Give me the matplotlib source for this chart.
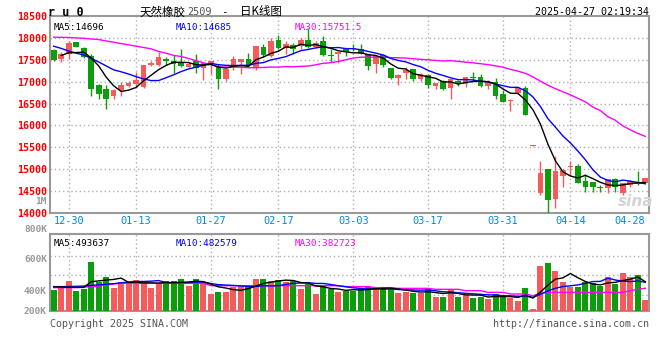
"""Sina-style daily K chart for ru0 (天然橡胶2509)."""
import numpy as np
import pandas as pd
import matplotlib
matplotlib.use("Agg")
import matplotlib.pyplot as plt

plt.rcParams['font.family'] = ['DejaVu Sans Mono', 'Noto Sans CJK SC']

# ---- data (index 0 = 12-26, last = 04-28) ----
opens = [17727, 17523, 17636, 17901, 17773, 17583, 16932, 16841, 16674, 16803,
         16909, 16954, 16878, 17371, 17386, 17523, 17462, 17432, 17333, 17462,
         17310, 17409, 17333, 17053, 17371, 17447, 17523, 17310, 17788, 17583,
         17954, 17773, 17841, 17810, 17954, 17803, 17939, 17613, 17636, 17735,
         17773, 17750, 17621, 17394, 17598, 17318, 17083, 17204, 17295, 17053,
         17159, 16894, 17015, 16863, 17015, 16938, 17115, 17115, 16900, 17000,
         16707, 16554, 16736, 16864, 15540, 14450, 15006, 14313, 14846, 15045,
         15074, 14738, 14709, 14602, 14564, 14777, 14450, 14640, 14716, 14679]
highs = [17735, 17674, 17939, 17910, 17788, 17621, 16940, 16916, 16841, 16992,
         17010, 17219, 17380, 17480, 17674, 17560, 17598, 17750, 17447, 17636,
         17447, 17470, 17409, 17295, 17583, 17523, 17659, 17810, 17863, 18000,
         18068, 17924, 17886, 18000, 18227, 17939, 18037, 17735, 17674, 17773,
         17863, 17863, 17621, 17583, 17598, 17318, 17182, 17333, 17295, 17204,
         17182, 16977, 17030, 17068, 17040, 17115, 17215, 17169, 17038, 17077,
         16807, 16595, 16880, 16900, 15550, 15189, 15006, 15303, 15000, 15189,
         15120, 14884, 14709, 14650, 14777, 14790, 14679, 14760, 14967, 14810]
lows = [17480, 17447, 17523, 17790, 17538, 16666, 16613, 16371, 16613, 16666,
        16880, 16878, 16860, 17356, 17356, 17371, 17204, 17333, 17295, 17204,
        17030, 17167, 16826, 17015, 17272, 17182, 17333, 17257, 17560, 17560,
        17750, 17621, 17621, 17750, 17773, 17773, 17583, 17447, 17432, 17583,
        17700, 17621, 17257, 17204, 17333, 17053, 16916, 17053, 17015, 17015,
        16856, 16826, 16803, 16613, 16900, 16869, 17023, 16884, 16831, 16615,
        16538, 16340, 16736, 16240, 15530, 14411, 14000, 14122, 14600, 14869,
        14679, 14487, 14480, 14480, 14460, 14470, 14400, 14600, 14640, 14670]
closes = [17485, 17636, 17886, 17803, 17560, 16826, 16727, 16613, 16803, 16916,
          16977, 17030, 17371, 17432, 17560, 17462, 17394, 17356, 17409, 17310,
          17432, 17462, 17053, 17295, 17507, 17523, 17371, 17810, 17598, 17924,
          17773, 17863, 17750, 17962, 17788, 17879, 17613, 17576, 17674, 17674,
          17750, 17636, 17348, 17583, 17371, 17091, 17144, 17257, 17053, 17182,
          16916, 16977, 16841, 17055, 16938, 17100, 17077, 16900, 16984, 16669,
          16538, 16592, 16864, 16240, 15550, 14907, 14297, 14967, 14983, 15074,
          14679, 14602, 14587, 14564, 14777, 14602, 14679, 14738, 14663, 14792]
# volume in thousands
volumes = [353, 421, 505, 337, 370, 830, 493, 572, 392, 483,
           466, 522, 505, 392, 466, 505, 505, 539, 421, 539,
           466, 286, 320, 320, 399, 421, 421, 539, 539, 505,
           522, 493, 505, 370, 454, 286, 421, 365, 325, 342,
           342, 392, 404, 404, 365, 365, 308, 325, 298, 298,
           392, 241, 241, 365, 241, 269, 224, 241, 202, 286,
           258, 224, 173, 392, 39, 762, 813, 678, 493, 409,
           409, 493, 466, 421, 577, 454, 645, 577, 606, 185]
# moving averages that need data before the window
ma30 = [18015, 18012, 18010, 18000, 17990, 17975, 17962, 17930, 17901, 17870,
        17841, 17810, 17780, 17750, 17690, 17650, 17600, 17575, 17530, 17480,
        17430, 17390, 17340, 17335, 17333, 17330, 17318, 17318, 17325, 17333,
        17333, 17345, 17340, 17350, 17356, 17386, 17420, 17432, 17462, 17500,
        17540, 17560, 17560, 17560, 17560, 17550, 17545, 17540, 17523, 17510,
        17500, 17485, 17472, 17480, 17465, 17446, 17430, 17410, 17390, 17360,
        17330, 17280, 17240, 17190, 17110, 17010, 16920, 16840, 16770, 16700,
        16620, 16540, 16420, 16340, 16200, 16120, 15990, 15900, 15820, 15751]
ma5_head = [np.nan, 17600, 17660, 17665]
ma10_head = [17810, 17760, 17700, 17650, 17610, 17530, 17450, 17360, 17270]
vol_ma30 = [393, 393, 393, 393, 400, 410, 420, 440, 454, 466,
            466, 466, 466, 466, 466, 466, 466, 466, 466, 466,
            466, 426, 426, 426, 426, 426, 426, 426, 426, 426,
            426, 426, 426, 426, 426, 426, 426, 426, 426, 410,
            410, 410, 410, 393, 393, 393, 381, 381, 381, 381,
            381, 365, 365, 365, 365, 342, 342, 342, 314, 314,
            314, 286, 286, 286, 258, 297, 310, 314, 314, 314,
            314, 314, 314, 314, 314, 314, 314, 342, 365, 383]
vol_ma5_head = [410, 405, 400, 398]
vol_ma10_head = [410, 410, 412, 415, 420, 430, 440, 450, 460]

date_idx = [2, 11, 21, 30, 40, 50, 60, 69, 79]
date_labels = ["12-30", "01-13", "01-27", "02-17", "03-03",
               "03-17", "03-31", "04-14", "04-28"]
price_ticks = [14000, 14500, 15000, 15500, 16000, 16500, 17000, 17500, 18000, 18500]

RED = "#f65b5b"
GREEN = "#0a9e0a"
GRID = "#b0b0b0"
FRAME = "#999999"
DATE_BLUE = "#0088dd"

df = pd.DataFrame({"open": opens, "high": highs, "low": lows,
                   "close": closes, "vol": volumes})
x = np.arange(len(df))
up = df["close"] >= df["open"]
colors = np.where(up, RED, GREEN)

ma5 = df["close"].rolling(5).mean().values
ma5[:4] = ma5_head
ma10 = df["close"].rolling(10).mean().values
ma10[:9] = ma10_head
vma5 = df["vol"].rolling(5).mean().values
vma5[:4] = vol_ma5_head
vma10 = df["vol"].rolling(10).mean().values
vma10[:9] = vol_ma10_head

W, H = 660, 360
fig = plt.figure(figsize=(W / 100, H / 100), dpi=100)


def fx(px):
    return px / W


def fy(py):
    return 1 - py / H


def style_frame(ax):
    for s in ax.spines.values():
        s.set_color(FRAME)
        s.set_linewidth(1.5)
    ax.tick_params(length=0)


ax = fig.add_axes([fx(50), fy(213), fx(649) - fx(50), fy(16) - fy(213)])
axv = fig.add_axes([fx(50), fy(311), fx(649) - fx(50), fy(234) - fy(311)])

# ---- price panel ----
ax.vlines(x, df["low"], df["high"], colors=colors, linewidth=1, zorder=3)
body_lo = np.minimum(df["open"], df["close"])
body_h = np.maximum(np.abs(df["close"] - df["open"]), 12)
ax.bar(x, body_h, bottom=body_lo, width=0.76, color=colors, zorder=4)
ax.plot(x, ma30, color="#ff00ff", linewidth=1, zorder=5)
ax.plot(x, ma10, color="#0000ff", linewidth=1, zorder=5)
ax.plot(x, ma5, color="black", linewidth=1, zorder=5)

ax.set_xlim(-0.5, len(df) - 0.5)
ax.set_ylim(14000, 18500)
ax.set_yticks(price_ticks)
ax.set_yticklabels([str(t) for t in price_ticks], color="red",
                   fontsize=7.2, fontweight="bold")
ax.tick_params(axis="y", pad=2)
ax.set_xticks(date_idx)
ax.set_xticklabels(date_labels, color=DATE_BLUE, fontsize=7.4)
ax.tick_params(axis="x", pad=2)
ax.get_xticklabels()[-1].set_horizontalalignment("right")
for t in price_ticks[1:-1]:
    ax.axhline(t, color=GRID, linewidth=1, linestyle=(0, (1, 2)), zorder=1)
for d in date_idx[:-1]:
    ax.axvline(d, color=GRID, linewidth=1, linestyle=(0, (1, 2)), zorder=1)
style_frame(ax)

ax.text(0.006, 0.965, "MA5:14696", transform=ax.transAxes, fontsize=6.7,
        color="black", va="top")
ax.text(0.209, 0.965, "MA10:14685", transform=ax.transAxes, fontsize=6.7,
        color="#0000ff", va="top")
ax.text(0.409, 0.965, "MA30:15751.5", transform=ax.transAxes, fontsize=6.7,
        color="#ff00ff", va="top")
fig.text(fx(636), fy(201), "sina", fontsize=11, color="#d4d4d4",
         style="italic", fontweight="bold", ha="center", va="center",
         family="DejaVu Sans")

# ---- volume panel ----
axv.bar(x, df["vol"], width=0.8, color=colors, zorder=3)
axv.plot(x, vol_ma30, color="#ff00ff", linewidth=1, zorder=5)
axv.plot(x, vma10, color="#0000ff", linewidth=1, zorder=5)
axv.plot(x, vma5, color="black", linewidth=1, zorder=5)
axv.set_xlim(-0.5, len(df) - 0.5)
vtop = 77 * 16.83
axv.set_ylim(0, vtop)
axv.set_xticks([])
axv.set_yticks([])
for q in (0.208, 0.468, 0.714):
    axv.axhline(vtop * q, color=GRID, linewidth=1, linestyle=(0, (1, 2)), zorder=1)
for d in date_idx[:-1]:
    axv.axvline(d, color=GRID, linewidth=1, linestyle=(0, (1, 2)), zorder=1)
style_frame(axv)
axv.text(0.006, 0.93, "MA5:493637", transform=axv.transAxes, fontsize=6.7,
         color="black", va="top")
axv.text(0.209, 0.93, "MA10:482579", transform=axv.transAxes, fontsize=6.7,
         color="#0000ff", va="top")
axv.text(0.409, 0.93, "MA30:382723", transform=axv.transAxes, fontsize=6.7,
         color="#ff00ff", va="top")

for lab, py in [("1M", 201.5), ("800K", 230), ("600K", 260), ("400K", 291), ("200K", 311)]:
    fig.text(fx(47), fy(py), lab, fontsize=6.8, color="#999999",
             ha="right", va="center", fontweight="bold")

# ---- header / footer ----
fig.text(fx(48), fy(12), "r u 0", fontsize=8.5, fontweight="bold",
         color="black", va="center")
fig.text(fx(140), fy(12), "天然橡胶", fontsize=8.3, family="Noto Sans CJK SC",
         color="black", va="center")
fig.text(fx(187), fy(12), "2509", fontsize=7.4, color="#555555", va="center")
fig.text(fx(221), fy(12), "-", fontsize=8, color="black", va="center")
fig.text(fx(240), fy(12), "日K线图", fontsize=8.3, family="Noto Sans CJK SC",
         color="black", va="center")
fig.text(fx(649), fy(12), "2025-04-27 02:19:34", fontsize=7.2,
         color="black", ha="right", va="center")
fig.text(fx(50), fy(324), "Copyright 2025 SINA.COM", fontsize=7.2,
         color="#555555", va="center")
fig.text(fx(649), fy(324), "http://finance.sina.com.cn", fontsize=7.2,
         color="#555555", ha="right", va="center")

fig.savefig("out.png", dpi=100)
